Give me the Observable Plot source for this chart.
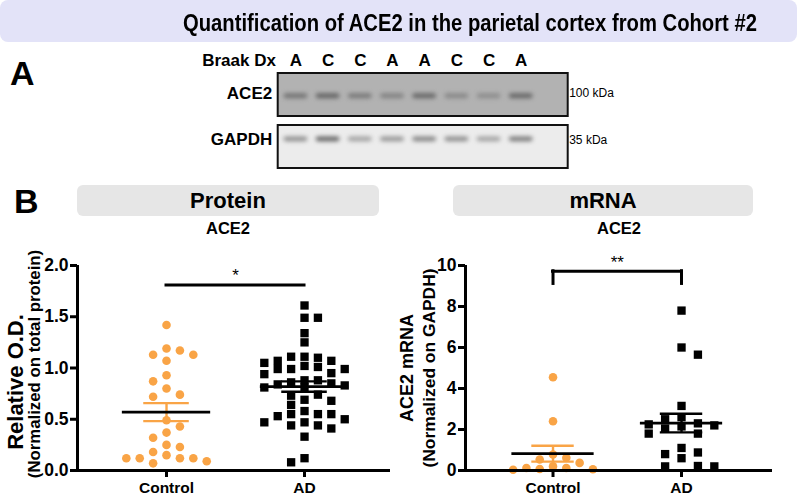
<!DOCTYPE html>
<html>
<head>
<meta charset="utf-8">
<script src="https://cdn.jsdelivr.net/npm/d3@7"></script>
<script src="https://cdn.jsdelivr.net/npm/@observablehq/plot@0.6"></script>
<style>
  html, body { margin: 0; padding: 0; background: #fff; }
  #fig { position: relative; width: 797px; height: 496px; overflow: hidden;
         font-family: "Liberation Sans", Arial, Helvetica, sans-serif; color: #000; }
  .abs { position: absolute; white-space: nowrap; line-height: 1; }
  #titlebox { left: 0; top: 0; width: 797px; height: 42px; background: #e3e3f8; border-radius: 8px; }
  #title { font-family: "Liberation Sans Narrow", "Arial Narrow", "Liberation Sans", Arial, sans-serif;
           font-weight: bold; font-size: 23px; transform-origin: 0 0; }
  .hdr { background: #e6e6e6; border-radius: 6px; height: 31px; top: 185px; font-weight: bold; font-size: 22px;
         display: flex; align-items: center; justify-content: center; }
  .sub { font-weight: bold; font-size: 16.5px; width: 200px; text-align: center; }
  .letter { font-weight: bold; font-size: 34px; }
</style>
</head>
<body>
<div id="fig">
  <div id="titlebox" class="abs"></div>
  <div id="title" class="abs">Quantification of ACE2 in the parietal cortex from Cohort #2</div>
  <div class="abs letter" style="left:10px; top:56px;">A</div>
  <div class="abs letter" style="left:14px; top:184px;">B</div>
  <div class="abs hdr" style="left:77px; width:302px;">Protein</div>
  <div class="abs hdr" style="left:453px; width:300px;">mRNA</div>
  <div class="abs sub" style="left:128px; top:220px;">ACE2</div>
  <div class="abs sub" style="left:519px; top:220px;">ACE2</div>
</div>
<script>
// ---------------- data ----------------
const groups = ["Control", "AD"];

const proteinControl = [1.42, 1.19, 1.17, 1.13, 1.13, 1.07, 0.93, 0.87, 0.80, 0.74, 0.72, 0.49, 0.43,
  0.37, 0.32, 0.25, 0.23, 0.18, 0.15, 0.12, 0.12, 0.12, 0.12, 0.09, 0.07];
const proteinAD = [1.61, 1.49, 1.49, 1.34, 1.25, 1.10, 1.01, 0.85, 1.11, 1.02, 0.74, 0.55, 0.44,
  1.07, 0.99, 0.88, 0.81, 0.68, 0.50, 1.11, 0.95, 0.88, 0.83, 0.69, 0.58, 0.53, 0.47, 0.41, 0.33,
  1.07, 0.99, 0.86, 0.64, 0.55, 0.47, 1.05, 0.94, 0.84, 0.73, 0.55, 0.44, 0.99, 0.81, 0.12, 0.08];
const mrnaControl = [4.55, 2.40, 0.78, 0.62, 0.54, 0.37, 0.20, 0.12, 0.12, 0.07, 0.06, 0.04];
const mrnaAD = [7.8, 6.0, 5.65, 3.15, 2.6, 2.5, 2.3, 2.25, 2.2, 2.15, 2.05, 1.8, 1.8, 1.1, 0.88, 0.8,
  0.6, 0.22, 0.2, 0.2];

const proteinTicks = [0, 0.5, 1.0, 1.5, 2.0];
const mrnaTicks = [0, 2, 4, 6, 8, 10];
const proteinAxisLabel = ["Relative O.D.", "(Normalized on total protein)"];
const mrnaAxisLabel = ["ACE2 mRNA", "(Normalized on GAPDH)"];
const proteinSig = {level: 1.81, drop: 0, label: "*"};
const mrnaSig = {level: 9.72, drop: 0.62, label: "**"};

// western blot
const lanes = ["A", "C", "C", "A", "A", "C", "C", "A"];
const blotRows = ["ACE2", "GAPDH"];
const blotMarkers = ["100 kDa", "35 kDa"];
const ace2Band = [0.42, 0.52, 0.38, 0.32, 0.5, 0.28, 0.25, 0.5];
const gapdhBand = [0.45, 0.66, 0.36, 0.42, 0.5, 0.46, 0.36, 0.55];

// ---------------- styles ----------------
const ORANGE = "#f9a446";
const FONT = "'Liberation Sans', Arial, Helvetica, sans-serif";

// title sizing
(function () {
  const t = document.getElementById("title");
  const w = t.getBoundingClientRect().width;
  const target = 574;
  t.style.transform = `scaleX(${target / w})`;
  t.style.left = (470 - target / 2) + "px";
  t.style.top = (31.7 - 0.8465 * 23) + "px";
})();

// grid-dodge layout (GraphPad-like scatter)
function slotLayout(values, pxPerUnit, gap, maxSlot) {
  const placed = [];
  let left = 0, right = 0;
  return values.map(v => {
    const py = v * pxPerUnit;
    const cands = [0];
    for (let k = 1; k <= maxSlot; k++) cands.push(...(right <= left ? [k, -k] : [-k, k]));
    let best = 0, bestGap = -1;
    for (const s of cands) {
      let g = Infinity;
      for (const p of placed) if (p.s === s) g = Math.min(g, Math.abs(p.py - py));
      if (g >= gap) { best = s; break; }
      if (g > bestGap) { bestGap = g; best = s; }
    }
    placed.push({s: best, py});
    if (best > 0) right++; else if (best < 0) left++;
    return best;
  });
}

function scatter(cfg) {
  const {width, height, ml, mr, mt, mb, xDomain, yMax, ticks, fmt, series, labels, sig} = cfg;
  const catPx = (width - ml - mr) / (xDomain[1] - xDomain[0]);
  const yPx = (height - mt - mb) / yMax;
  const marks = [];
  series.forEach((s, gi) => {
    const xc = gi + 1;
    const vals = [...s.values].sort((a, b) => b - a);
    const slots = slotLayout(vals, yPx, s.gap, s.maxSlot);
    const pts = vals.map((v, i) => ({v, x: xc + slots[i] * s.spacing / catPx}));
    const mean = d3.mean(s.values);
    const sem = d3.deviation(s.values) / Math.sqrt(s.values.length);
    const st = [{x: xc, mean, lo: mean - sem, hi: mean + sem}];
    marks.push(
      Plot.dot(pts, {x: "x", y: "v", symbol: s.symbol, r: s.r, fill: s.fill}),
      Plot.ruleX(st, {x: "x", y1: "lo", y2: "hi", stroke: s.err, strokeWidth: 2.4}),
      Plot.ruleY(st, {y: "lo", x1: d => d.x - 0.165, x2: d => d.x + 0.165, stroke: s.err, strokeWidth: 2.4}),
      Plot.ruleY(st, {y: "hi", x1: d => d.x - 0.165, x2: d => d.x + 0.165, stroke: s.err, strokeWidth: 2.4}),
      Plot.ruleY(st, {y: "mean", x1: d => d.x - 0.32, x2: d => d.x + 0.32, stroke: "black", strokeWidth: 2.8})
    );
  });
  const sx1 = 1, sx2 = groups.length;
  marks.push(Plot.ruleY([sig], {y: "level", x1: sx1, x2: sx2, strokeWidth: 3, strokeLinecap: "square"}));
  if (sig.drop) marks.push(Plot.ruleX([sx1, sx2], {x: d => d, y1: sig.level - sig.drop, y2: sig.level, strokeWidth: 3, strokeLinecap: "square"}));
  marks.push(Plot.text([sig], {x: (sx1 + sx2) / 2, y: "level", text: "label", dy: -9, fontSize: 17, fontWeight: "normal"}));
  labels.forEach(l => marks.push(Plot.text([l.text], {text: d => d, frameAnchor: "left", textAnchor: "middle",
    lineAnchor: "middle", rotate: -90, dx: l.dx, dy: l.dy, fontSize: l.size, fontWeight: "bold"})));
  marks.push(
    Plot.ruleY([0], {x1: xDomain[0], x2: xDomain[1], strokeWidth: 3}),
    Plot.ruleX([xDomain[0]], {y1: 0, y2: yMax, strokeWidth: 3}),
    Plot.axisY({ticks, tickFormat: fmt, tickSize: 7, tickPadding: 2, strokeWidth: 3, fontSize: 17.5, fontWeight: "bold", label: null}),
    Plot.axisX({ticks: groups.map((_, i) => i + 1), tickFormat: i => groups[i - 1], tickSize: 7, tickPadding: 4,
      strokeWidth: 3, fontSize: 15.5, fontWeight: "bold", label: null})
  );
  const svg = Plot.plot({
    width, height, marginLeft: ml, marginRight: mr, marginTop: mt, marginBottom: mb,
    x: {domain: xDomain}, y: {domain: [0, yMax]},
    style: {fontFamily: FONT, fontWeight: "bold", color: "black", background: "transparent", overflow: "visible"},
    marks
  });
  svg.style.position = "absolute";
  svg.style.left = cfg.left + "px";
  svg.style.top = cfg.top + "px";
  return svg;
}

const fig = document.getElementById("fig");

fig.appendChild(scatter({
  left: 0, top: 240, width: 400, height: 256, ml: 77, mr: 10, mt: 25, mb: 26,
  xDomain: [0.355, 2.623], yMax: 2, ticks: proteinTicks, fmt: d3.format(".1f"),
  series: [
    {values: proteinControl, symbol: "circle", r: 4.3, fill: ORANGE, err: ORANGE, spacing: 13.4, gap: 9.6, maxSlot: 3},
    {values: proteinAD, symbol: "square", r: 4.7, fill: "black", err: "black", spacing: 13.4, gap: 8.8, maxSlot: 3}
  ],
  labels: [
    {text: proteinAxisLabel[0], dx: -62, dy: 14, size: 22},
    {text: proteinAxisLabel[1], dx: -43, dy: -4, size: 16.8}
  ],
  sig: proteinSig
}));

fig.appendChild(scatter({
  left: 400, top: 240, width: 397, height: 256, ml: 65, mr: 25, mt: 25, mb: 26,
  xDomain: [0.319, 2.708], yMax: 10, ticks: mrnaTicks, fmt: d3.format("d"),
  series: [
    {values: mrnaControl, symbol: "circle", r: 4.3, fill: ORANGE, err: ORANGE, spacing: 13.3, gap: 9.6, maxSlot: 3},
    {values: mrnaAD, symbol: "square", r: 4.7, fill: "black", err: "black", spacing: 16.4, gap: 8.8, maxSlot: 2}
  ],
  labels: [
    {text: mrnaAxisLabel[0], dx: -58, dy: 0, size: 18},
    {text: mrnaAxisLabel[1], dx: -36, dy: 0, size: 17.4}
  ],
  sig: mrnaSig
}));

// ---------------- western blot ----------------
(function () {
  const membraneFill = ["#b2b2b2", "#ececec"];
  const bandSets = [ace2Band, gapdhBand];
  const insets = [[20.3, 17.8], [11.4, 26.8]];
  const labelDy = [-1.5, -7];
  const xDom = [0.45, lanes.length + 1.46];
  const marks = [
    Plot.barX(blotRows, {y: d => d, x1: xDom[0], x2: xDom[1], fill: (d, i) => membraneFill[i], stroke: "#111", strokeWidth: 2})
  ];
  blotRows.forEach((row, r) => {
    const data = bandSets[r].map((v, i) => ({lane: i + 1, v, row}));
    const col = d3.interpolateRgb(membraneFill[r], "#1c1c1c");
    marks.push(Plot.barX(data, {y: "row", x1: d => d.lane - 0.37, x2: d => d.lane + 0.37,
      fill: d => col(d.v), insetTop: insets[r][0], insetBottom: insets[r][1], rx: 3}));
  });
  blotRows.forEach((row, r) => {
    marks.push(Plot.text([row], {y: d => d, text: d => d, frameAnchor: "left", dx: -6, dy: labelDy[r],
      textAnchor: "end", lineAnchor: "middle", fontSize: 17, fontWeight: "bold"}));
    marks.push(Plot.text([row], {y: d => d, text: () => blotMarkers[r], frameAnchor: "right", dx: 1, dy: labelDy[r],
      textAnchor: "start", lineAnchor: "middle", fontSize: 12, fontWeight: "normal"}));
  });
  marks.push(
    Plot.text(lanes, {x: (d, i) => i + 1, text: d => d, frameAnchor: "top", lineAnchor: "middle", dy: -12, fontSize: 17, fontWeight: "bold"}),
    Plot.text(["Braak Dx"], {x: 1, text: d => d, frameAnchor: "top", lineAnchor: "middle", dy: -12, dx: -20, textAnchor: "end", fontSize: 17, fontWeight: "bold"})
  );
  const svg = Plot.plot({
    width: 440, height: 135, marginLeft: 97.7, marginRight: 52.3, marginTop: 31.7, marginBottom: 6.7,
    x: {domain: xDom, axis: null},
    y: {domain: blotRows, paddingInner: 0.176, paddingOuter: 0, axis: null},
    style: {fontFamily: FONT, color: "black", background: "transparent", overflow: "visible"},
    marks
  });
  const bars = svg.querySelectorAll('g[aria-label="bar"]');
  for (let i = 1; i < bars.length; i++) bars[i].style.filter = "blur(2px)";
  svg.style.position = "absolute";
  svg.style.left = "180px";
  svg.style.top = "40px";
  fig.appendChild(svg);
})();
</script>
</body>
</html>
